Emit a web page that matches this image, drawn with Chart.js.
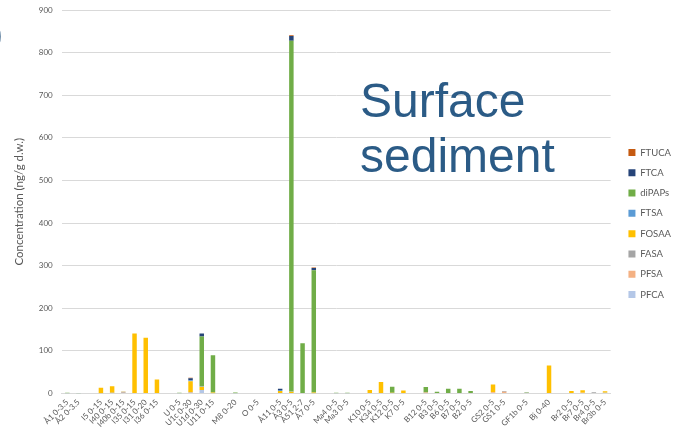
<!DOCTYPE html>
<html>
<head>
<meta charset="utf-8">
<script src="https://cdn.jsdelivr.net/npm/chart.js@4"></script>
<style>
  html, body { margin: 0; padding: 0; background: #ffffff; }
  #wrap { position: relative; width: 674px; height: 438px; overflow: hidden; }
  #c { position: absolute; left: 0; top: 0; }
  #title { position: absolute; left: 360px; top: 73px; font-family: "Liberation Sans", Arial, sans-serif;
           font-size: 48px; line-height: 55px; color: #2B5B86; white-space: nowrap; }
  #mark { position: absolute; left: -9px; top: 14px; font-family: "Liberation Sans", Arial, sans-serif;
          font-size: 34px; font-weight: bold; color: #1F4E79; }
</style>
</head>
<body>
<div id="wrap">
  <canvas id="c" width="674" height="438"></canvas>
  <div id="mark">)</div>
  <div id="title">Surface<br>sediment</div>
</div>
<script>
// Categories (empty strings are spacer slots between site groups)
const categories = [
  "Å1 0-3.5", "Å2 0-3.5", "",
  "I5 0-15", "I40 0-15", "I40b 0-15", "I35 0-15", "I31 0-20", "I36 0-15", "",
  "U 0-5", "U1c 0-30", "U1d 0-30", "U11 0-15", "",
  "M8 0-20", "",
  "O 0-5", "",
  "Å11 0-5", "Å3 0-5", "Å51 2-7", "Å7 0-5", "",
  "Ma4 0-5", "Ma3 0-5", "",
  "K10 0-5", "K34 0-5", "K12 0-5", "K7 0-5", "",
  "B12 0-5", "B3 0-5", "B6 0-5", "B7 0-5", "B2 0-5", "",
  "GS2 0-5", "GS1 0-5", "",
  "GF1b 0-5", "",
  "Bj 0-40", "",
  "Br2 0-5", "Br7 0-5", "Br4 0-5", "Br3b 0-5"
];

// Series values (ng/g d.w.), stacked bottom -> top
const PFCA   = [0.5,0.5, null, 0.5,1,0,1,1,1, null, 0.5,1,8,0.5, null, 0.5, null, 0, null, 1,1,0,0.5, null, 0.5,0.5, null, 0,0,0,0, null, 0.5,0,0,0,0, null, 1,1, null, 1, null, 0, null, 0,0,0,1.5];
const PFSA   = [0,0, null, 0,0,2,0,0,0, null, 0,1,0,0, null, 0, null, 0, null, 0,0,0,0, null, 0,0, null, 0,0,0,0, null, 2,0,0,0,0, null, 2,3, null, 0, null, 0, null, 0,1.5,1,0];
const FASA   = [0,0, null, 0,1,2,0,0,0, null, 0,1,0,0, null, 0, null, 0, null, 0,0,0,0, null, 0,0, null, 0,0,0,0, null, 0,0,0,0,0, null, 0,2, null, 1, null, 0, null, 0,0,2,0];
const FOSAA  = [0,0, null, 13,15,1,140,130,32, null, 0,26,8,2, null, 0, null, 0, null, 5,3,0,2, null, 0,0, null, 8,27,2,7, null, 0,0,0,0,0, null, 18,0, null, 0, null, 66, null, 6,6,0,4];
const FTSA   = [0,0, null, 0,0,0,0,0,0, null, 0,2,1,0, null, 0, null, 0, null, 2,1,0,0, null, 0,0, null, 0,0,0,0, null, 0,0,0,0,0, null, 0,0, null, 0, null, 0, null, 0,0,0,0];
const diPAPs = [1,0.5, null, 0,0,0,0,0,0, null, 1.5,0,117,87, null, 2, null, 1, null, 0,823,118,287, null, 1,1, null, 0,0,14,0, null, 13,4,11,11,6, null, 0,0, null, 1, null, 0, null, 0,0,0,0];
const FTCA   = [0,0, null, 0,0,0,0,0,0, null, 0,5,7,0, null, 0, null, 0, null, 3,11,0,5, null, 0,0, null, 0,0,0,0, null, 0,0,0,0,0, null, 0,0, null, 0, null, 0, null, 0,0,0,0];
const FTUCA  = [0,0, null, 0,0,0,0,0,0, null, 0,1,0,0, null, 0, null, 0, null, 0,2,0,1, null, 0,0, null, 0,0,0,0, null, 0,0,0,0,0, null, 0,0, null, 0, null, 0, null, 0,0,0,0];

const seriesNames = ["PFCA", "PFSA", "FASA", "FOSAA", "FTSA", "diPAPs", "FTCA", "FTUCA"];
const seriesData  = [PFCA, PFSA, FASA, FOSAA, FTSA, diPAPs, FTCA, FTUCA];
const seriesColors = ["#B4C7E7", "#F4B183", "#A5A5A5", "#FFC000", "#5B9BD5", "#70AD47", "#264478", "#C55A11"];

const yTicks = [0, 100, 200, 300, 400, 500, 600, 700, 800, 900];

const font = "Lato, 'Open Sans', sans-serif";

const legendShift = {
  id: 'legendShift',
  afterLayout(chart) {
    const l = chart.legend;
    if (l) { l.left += 7; l.right += 7; l.top += 2; l.bottom += 2; }
  }
};

new Chart(document.getElementById('c'), {
  type: 'bar',
  data: {
    labels: categories,
    datasets: seriesNames.map((n, i) => ({
      label: n,
      data: seriesData[i],
      backgroundColor: seriesColors[i],
      borderWidth: 0,
      categoryPercentage: 1.0,
      barPercentage: 0.4
    }))
  },
  options: {
    responsive: false,
    animation: false,
    devicePixelRatio: 1,
    layout: { padding: { left: 8, top: 10, right: 0, bottom: 5 } },
    plugins: {
      legend: {
        position: 'right',
        reverse: true,
        labels: { boxWidth: 7, boxHeight: 7, padding: 10.8, color: '#595959', font: { family: font, size: 9.5 } }
      },
      tooltip: { enabled: false }
    },
    scales: {
      x: {
        stacked: true,
        grid: { display: false, drawTicks: false },
        border: { color: '#D9D9D9' },
        ticks: { autoSkip: false, minRotation: 45, maxRotation: 45, padding: 4, color: '#595959', font: { family: font, size: 8 } }
      },
      y: {
        stacked: true,
        min: 0, max: 900,
        afterBuildTicks(axis) { axis.ticks = yTicks.map(v => ({ value: v })); },
        afterFit(axis) { axis.paddingTop = 0; },
        grid: { color: '#D9D9D9', drawTicks: false },
        border: { display: false },
        ticks: { padding: 9, color: '#595959', font: { family: font, size: 8 } },
        title: { display: true, text: 'Concentration (ng/g d.w.)', color: '#595959', font: { family: font, size: 11.5 }, padding: { top: 4, bottom: 4 } }
      }
    }
  },
  plugins: [legendShift]
});
</script>
</body>
</html>
